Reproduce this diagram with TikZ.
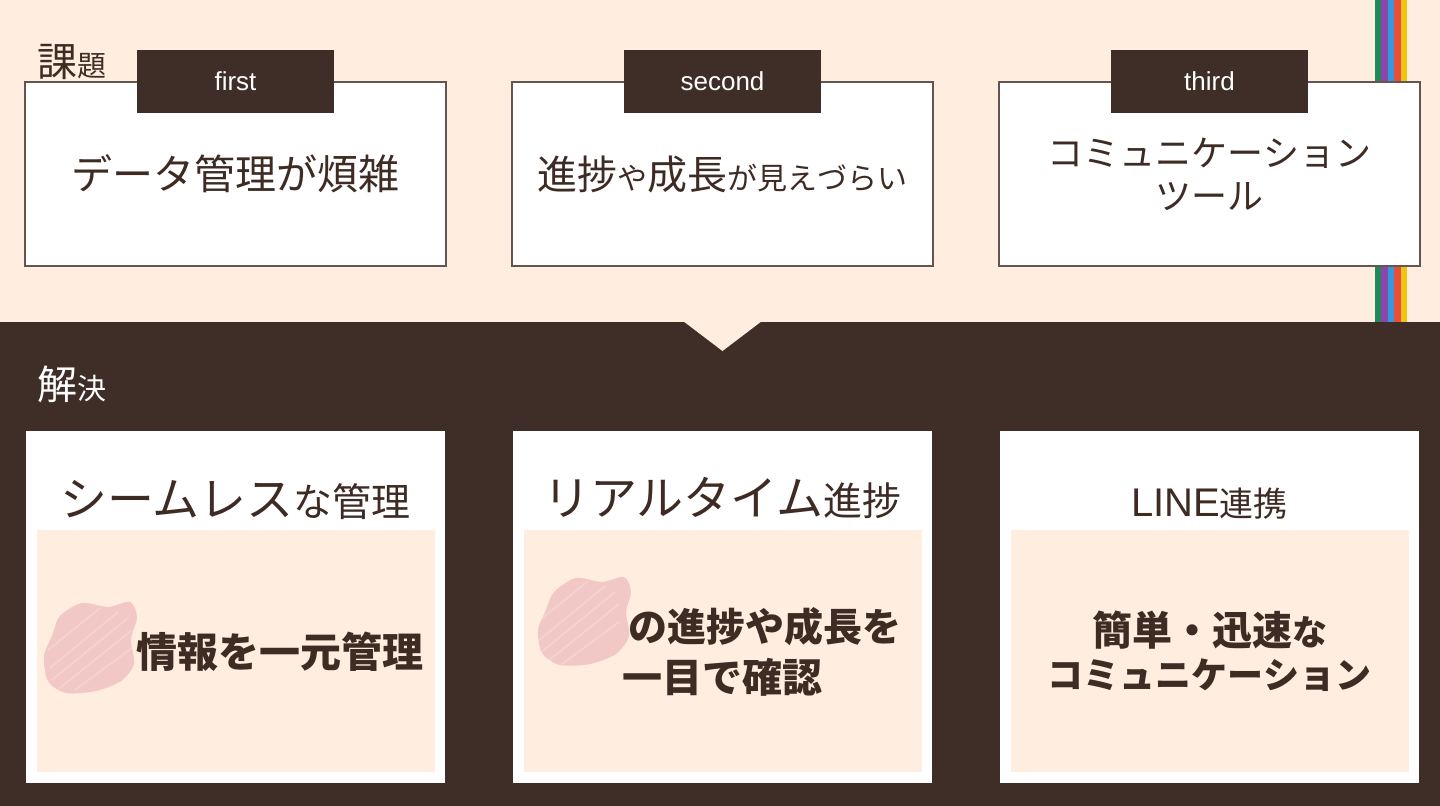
\documentclass[tikz,border=0pt]{standalone}
\usepackage{fontspec}
\setmainfont{Noto Sans CJK JP}
\newfontfamily\latin{Liberation Sans}
\usepackage{xcolor}
\usepackage{tikz}
\usetikzlibrary{positioning,calc}

\definecolor{peach}{HTML}{FFEDE0}
\definecolor{cocoa}{HTML}{3F2D27}
\definecolor{ink}{HTML}{3E2B24}
\definecolor{blotch}{HTML}{F2C8C6}
\definecolor{lineG}{HTML}{1E8A57}
\definecolor{lineP}{HTML}{8E44AD}
\definecolor{lineB}{HTML}{3498DB}
\definecolor{lineR}{HTML}{E74C3C}
\definecolor{lineY}{HTML}{F1C40F}

\newcommand{\fs}[1]{\fontsize{#1}{#1}\selectfont}

\begin{document}
\begin{tikzpicture}[
  x=0.5pt, y=-0.5pt,
  issue/.style={draw=ink!80, line width=0.8pt, fill=white, minimum width=210.5pt, minimum height=92pt, inner sep=0pt, align=center, text=ink},
  tab/.style={fill=cocoa, minimum width=98.5pt, minimum height=31.5pt, inner sep=0pt, text=white, font=\latin\fs{13}},
  fix/.style={fill=white, minimum width=209.5pt, minimum height=176pt, inner sep=0pt},
  pad/.style={fill=peach, minimum width=199pt, minimum height=121pt, inner sep=0pt},
  heading/.style={inner sep=0pt, text=ink},
  gist/.style={inner sep=0pt, text=ink, font=\bfseries\fs{19.5}},
  blob/.style={fill=blotch},
]

\useasboundingbox (0,0) rectangle (1440,806);
\fill[peach] (0,0) rectangle (1440,806);

% colour stripes behind the third box
\foreach \c [count=\i from 0] in {lineG,lineP,lineB,lineR,lineY}
  \fill[\c] (1375+\i*6.4,0) rectangle ++(6.4,322);

% dark band with notch
\fill[cocoa] (0,322) rectangle (1440,806);
\fill[peach] (683,321) -- (722.5,351) -- (762,321) -- cycle;

% problems
\node[heading, anchor=base west, font=\fs{20}] (kadai) at (37,77) {課{\fs{14.5}題}};

\node[issue, font=\fs{20.5}] (p1) at (235.5,174) {データ管理が煩雑};
\node[issue] (p2) at (722.5,174) {\fs{20}進捗{\fs{15}や}成長{\fs{15}が見えづらい}};
\node[issue, font=\fontsize{18}{21.5}\selectfont] (p3) at (1209.5,174) {コミュニケーション\\ツール};

\node[tab] (t1) at (p1.north) {first};
\node[tab] (t2) at (p2.north) {second};
\node[tab] (t3) at (p3.north) {third};

% solutions
\node[heading, anchor=base west, text=white, font=\fs{20}] (kaiketsu) at (37,400) {解{\fs{14.5}決}};

\node[fix] (s1) at (235.5,607) {};
\node[fix] (s2) at (722.5,607) {};
\node[fix] (s3) at (1209.5,607) {};

\node[pad, above=5.5pt of s1.south, anchor=south] (g1) {};
\node[pad, above=5.5pt of s2.south, anchor=south] (g2) {};
\node[pad, above=5.5pt of s3.south, anchor=south] (g3) {};

\node[heading, above=5pt of g1.north] (h1) {\fs{23.5}シームレス{\fs{19.5}な管理}};
\node[heading, above=5pt of g2.north] (h2) {\fs{23.5}リアルタイム{\fs{19.5}進捗}};
\node[heading, above=5pt of g3.north, font=\fs{17}] (h3) {{\latin\fs{20}LINE}連携};

% masked words
\fill[blob] plot[smooth cycle] coordinates {(60,616) (82,603) (108,607) (130,602) (137,617) (131,640) (134,664) (121,681) (96,691) (66,693) (48,681) (44,656) (52,636)};
\fill[blob] plot[smooth cycle] coordinates {(554,592) (576,578) (602,582) (624,577) (631,592) (626,612) (629,636) (616,654) (590,664) (560,665) (542,653) (538,630) (546,610)};
\foreach \d/\e in {0/0,487/-26}
  \draw[white, opacity=0.2, line width=0.8pt, line cap=round]
    (50+\d,668+\e) -- (118+\d,612+\e) (52+\d,680+\e) -- (128+\d,618+\e) (60+\d,688+\e) -- (132+\d,630+\e)
    (75+\d,690+\e) -- (132+\d,648+\e) (48+\d,650+\e) -- (100+\d,608+\e);

\node[gist, anchor=west, font=\bfseries\fs{20.5}] (m1) at ($(g1.west)+(100,1)$) {情報を一元管理};
\node[gist, anchor=west] (m2a) at ($(g2.west)+(105,-24)$) {の進捗や成長を};
\node[gist, font=\bfseries\fs{20}] (m2b) at ($(g2.center)+(0,26)$) {一目で確認};
\node[gist, font=\bfseries\fs{20}] (m3a) at ($(g3.center)+(0,-21)$) {簡単・迅速{\fs{17.5}な}};
\node[gist, font=\bfseries\fs{18}] (m3b) at ($(g3.center)+(0,24)$) {コミュニケーション};

\end{tikzpicture}
\end{document}
